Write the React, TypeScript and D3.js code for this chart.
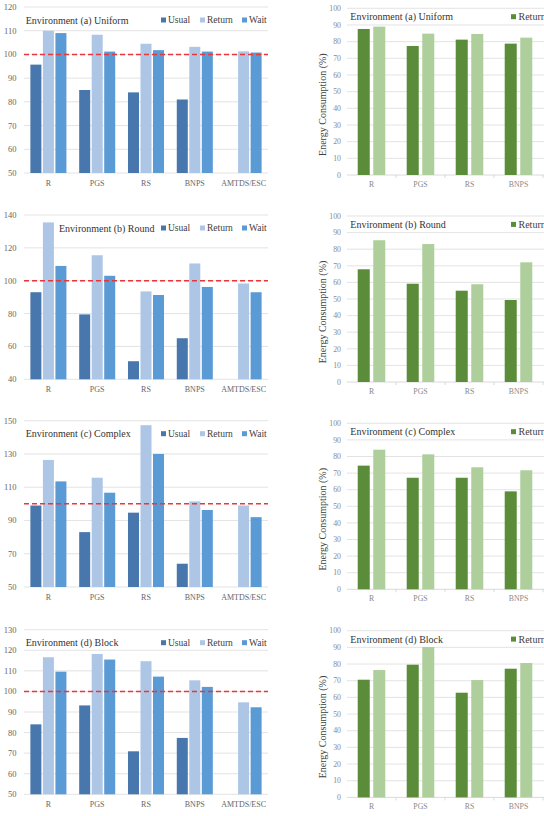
import React from 'react';
import * as d3 from 'd3';

// Categories
const planners = ['R', 'PGS', 'RS', 'BNPS', 'AMTDS/ESC'];
const energyPlanners = ['R', 'PGS', 'RS', 'BNPS'];
const modeNames = ['Usual', 'Return', 'Wait'];

// Relative time (%) per environment, one array per mode
const uniformUsual = [95.7, 85, 84, 81, null];
const uniformReturn = [110, 108.3, 104.5, 103.2, 101.3];
const uniformWait = [109, 101.2, 101.8, 101.2, 100.8];

const roundUsual = [93, 79.5, 51, 65, null];
const roundReturn = [135.5, 115.5, 93.5, 110.5, 98.3];
const roundWait = [109, 103, 91.3, 96.2, 93];

const complexUsual = [99, 83, 94.7, 64, null];
const complexReturn = [126.4, 115.7, 147.3, 101.5, 99];
const complexWait = [113.5, 106.7, 130, 96.3, 92];

const blockUsual = [84, 93.2, 70.9, 77.4, null];
const blockReturn = [116.6, 118.2, 114.7, 105.4, 94.7];
const blockWait = [109.6, 115.5, 107.2, 102.2, 92.3];

// Energy consumption (%) per environment
const uniformEnergyReturn = [87.6, 77.4, 81.2, 78.8];
const uniformEnergyWait = [89, 84.8, 84.6, 82.4];
const roundEnergyReturn = [67.9, 59.2, 55, 49.4];
const roundEnergyWait = [85.4, 83.1, 58.9, 72.1];
const complexEnergyReturn = [74.5, 67.2, 67.2, 59];
const complexEnergyWait = [84.1, 81.3, 73.5, 71.7];
const blockEnergyReturn = [70.6, 79.6, 62.8, 77.2];
const blockEnergyWait = [76.4, 90.2, 70.4, 80.6];

// Axis settings
const timeTitles = ['Environment (a) Uniform', 'Environment (b) Round', 'Environment (c) Complex', 'Environment (d) Block'];
const timeDomains = [[50, 120], [40, 140], [50, 150], [50, 130]];
const timeSteps = [10, 20, 20, 10];
const baseline = 100;

const timePanels = [
  { title: timeTitles[0], domain: timeDomains[0], step: timeSteps[0], series: [uniformUsual, uniformReturn, uniformWait] },
  { title: timeTitles[1], domain: timeDomains[1], step: timeSteps[1], series: [roundUsual, roundReturn, roundWait] },
  { title: timeTitles[2], domain: timeDomains[2], step: timeSteps[2], series: [complexUsual, complexReturn, complexWait] },
  { title: timeTitles[3], domain: timeDomains[3], step: timeSteps[3], series: [blockUsual, blockReturn, blockWait] },
];

const energyPanels = [
  { title: timeTitles[0], series: [uniformEnergyReturn, uniformEnergyWait] },
  { title: timeTitles[1], series: [roundEnergyReturn, roundEnergyWait] },
  { title: timeTitles[2], series: [complexEnergyReturn, complexEnergyWait] },
  { title: timeTitles[3], series: [blockEnergyReturn, blockEnergyWait] },
];

// Layout
const W = 544;
const H = 816;
const FONT = '"Liberation Serif", "Times New Roman", serif';
const leftX = [24, 268];
const leftY = [[7, 173], [215, 379.3], [420.7, 587], [629.7, 794.3]];
const leftTitleX = [25.7, 59, 25.7, 25.7];
const rightX0 = 347;
const rightStep = 49;
const rightY = [[8.3, 175], [216, 382], [423.3, 589.3], [630.7, 797.4]];

const modeColors = ['#4777ad', '#adc6e6', '#5b9bd5'];
const energyColors = ['#5a8c3a', '#aecf9b'];
const gridColor = '#dcdcdc';

function TimePanel({ panel, idx }) {
  const [top, bottom] = leftY[idx];
  const y = d3.scaleLinear().domain(panel.domain).range([bottom, top]);
  const x = d3.scaleBand().domain(planners).range(leftX).paddingInner(0).paddingOuter(0);
  const inner = d3.scaleBand().domain(modeNames).range([0, x.bandwidth()]).paddingInner(0.12).paddingOuter(0.51);
  const ticks = d3.range(panel.domain[0], panel.domain[1] + 0.001, panel.step);
  const legendX = [161, 200, 242];
  const legendY = top + 13;
  return (
    <g>
      {ticks.map((t) => (
        <g key={t}>
          <line x1={leftX[0]} x2={leftX[1]} y1={y(t)} y2={y(t)} stroke={gridColor} strokeWidth={0.8} />
          <text x={16.5} y={y(t)} dy="0.35em" textAnchor="end" fontSize={8.5} fill="#666" fontFamily={FONT}>{t}</text>
        </g>
      ))}
      {panel.series.map((vals, si) =>
        vals.map((v, ci) =>
          v == null ? null : (
            <rect key={`${si}-${ci}`} x={x(planners[ci]) + inner(modeNames[si])} y={y(v)}
              width={inner.bandwidth()} height={y(panel.domain[0]) - y(v)} fill={modeColors[si]} />
          )
        )
      )}
      <line x1={leftX[0]} x2={leftX[1]} y1={y(baseline)} y2={y(baseline)} stroke="#e6373b" strokeWidth={1.5} strokeDasharray="5,3" />
      {planners.map((p) => (
        <text key={p} x={x(p) + x.bandwidth() / 2} y={bottom + 12.5} textAnchor="middle" fontSize={8} fill="#666" fontFamily={FONT}>{p}</text>
      ))}
      <text x={leftTitleX[idx]} y={legendY} dy="0.35em" fontSize={10} fill="#333" fontFamily={FONT}>{panel.title}</text>
      {modeNames.map((m, i) => (
        <g key={m}>
          <rect x={legendX[i]} y={legendY - 2.5} width={5} height={5} fill={modeColors[i]} />
          <text x={legendX[i] + 7} y={legendY} dy="0.35em" fontSize={9.5} fill="#404040" fontFamily={FONT}>{m}</text>
        </g>
      ))}
    </g>
  );
}

function EnergyPanel({ panel, idx }) {
  const [top, bottom] = rightY[idx];
  const y = d3.scaleLinear().domain([0, 100]).range([bottom, top]);
  const x = d3.scaleBand().domain(energyPlanners).range([rightX0, rightX0 + rightStep * energyPlanners.length]);
  const inner = d3.scaleBand().domain(['Return', 'Wait']).range([0, x.bandwidth()]).paddingInner(0.226).paddingOuter(0.69);
  const ticks = d3.range(0, 100.001, 10);
  const titleY = top + 8.4;
  return (
    <g>
      {ticks.map((t) => (
        <g key={t}>
          <line x1={rightX0} x2={W + 20} y1={y(t)} y2={y(t)} stroke={t === 0 ? '#d0d0d0' : gridColor} strokeWidth={0.8} />
          <text x={341} y={y(t)} dy="0.35em" textAnchor="end" fontSize={7.8} fill="#8a8a8a" fontFamily={FONT}>{t}</text>
        </g>
      ))}
      {d3.range(1, energyPlanners.length + 1).map((i) => (
        <line key={i} x1={rightX0 + rightStep * i} x2={rightX0 + rightStep * i} y1={bottom} y2={bottom + 3} stroke="#d0d0d0" strokeWidth={0.8} />
      ))}
      {panel.series.map((vals, si) =>
        vals.map((v, ci) => (
          <rect key={`${si}-${ci}`} x={x(energyPlanners[ci]) + inner(si === 0 ? 'Return' : 'Wait')} y={y(v)}
            width={inner.bandwidth()} height={y(0) - y(v)} fill={energyColors[si]} />
        ))
      )}
      {energyPlanners.map((p) => (
        <text key={p} x={x(p) + x.bandwidth() / 2} y={bottom + 12} textAnchor="middle" fontSize={7.8} fill="#8a8a8a" fontFamily={FONT}>{p}</text>
      ))}
      <text transform={`translate(322.7,${(top + bottom) / 2 + 13}) rotate(-90)`} textAnchor="middle" dy="0.35em"
        fontSize={10} fill="#404040" fontFamily={FONT}>Energy Consumption (%)</text>
      <text x={350.3} y={titleY} dy="0.35em" fontSize={10} fill="#333" fontFamily={FONT}>{panel.title}</text>
      <rect x={511} y={titleY - 2.5} width={5} height={5} fill={energyColors[0]} />
      <text x={518.5} y={titleY} dy="0.35em" fontSize={10} fill="#404040" fontFamily={FONT}>Return</text>
    </g>
  );
}

export default function App() {
  return (
    <svg width={W} height={H} viewBox={`0 0 ${W} ${H}`}
      style={{ position: 'absolute', left: 0, top: 0, background: '#fff', overflow: 'hidden' }}>
      <rect width={W} height={H} fill="#fff" />
      {timePanels.map((p, i) => <TimePanel key={i} panel={p} idx={i} />)}
      {energyPanels.map((p, i) => <EnergyPanel key={i} panel={p} idx={i} />)}
    </svg>
  );
}
